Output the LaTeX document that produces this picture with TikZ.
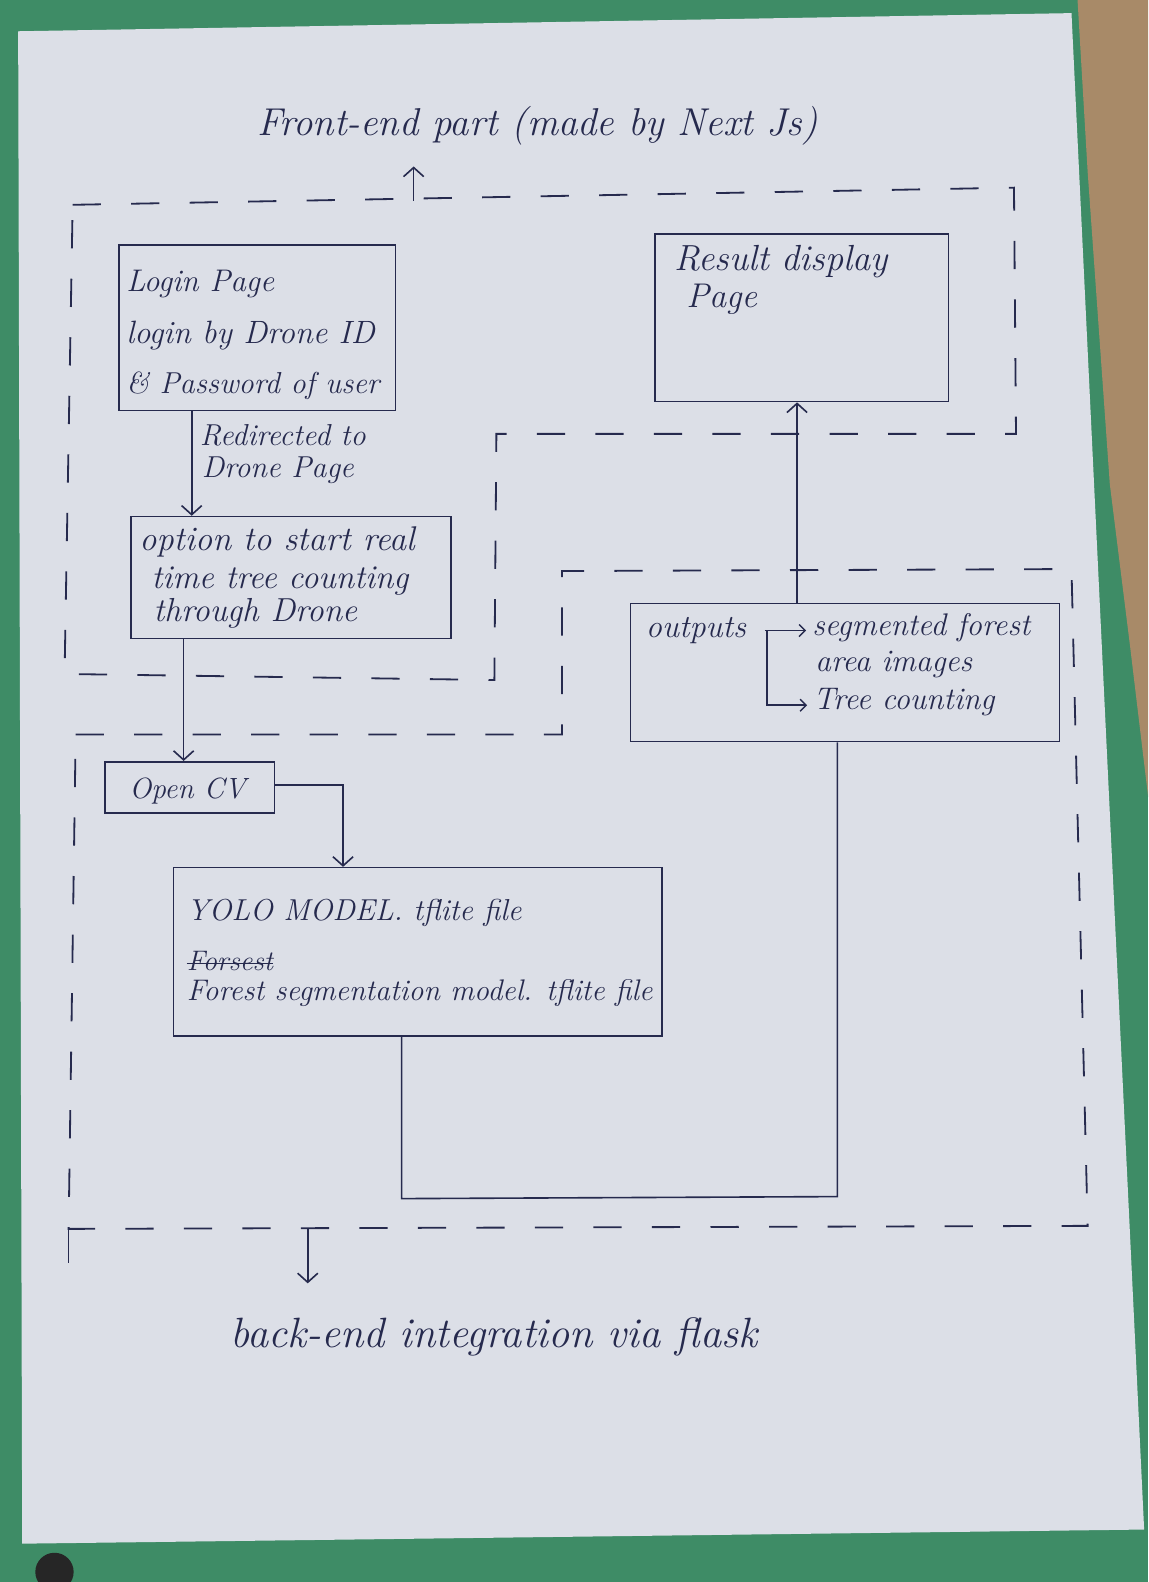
\documentclass[tikz,border=0pt]{standalone}
\usepackage{fontspec}
\usetikzlibrary{arrows.meta}
\definecolor{ink}{RGB}{38,42,78}
\definecolor{bggreen}{RGB}{62,140,102}
\definecolor{paper}{RGB}{220,223,231}
\definecolor{wood}{RGB}{168,138,104}
\tikzset{
  pen/.style={draw=ink, line width=1.6pt},
  boxn/.style={pen, rectangle, inner sep=0pt},
  dashline/.style={draw=ink, line width=1.8pt, dash pattern=on 28pt off 30pt},
  hand/.style={text=ink, inner sep=0pt, anchor=base west, font=\itshape\fontsize{#1}{#1}\selectfont},
  hand/.default=30,
  arr/.style={pen, -{Straight Barb[length=9pt,width=20pt,line width=1.6pt]}},
  smallarr/.style={pen, -{Straight Barb[length=6pt,width=12pt,line width=1.4pt]}, shorten >=6pt},
}
\begin{document}
\begin{tikzpicture}[x=1pt,y=-1pt]
\useasboundingbox (0,0) rectangle (1138,1568);
% photo background
\fill[bggreen] (0,0) rectangle (1138,1568);
\fill[wood] (1068,0) -- (1138,0) -- (1138,790) -- (1120,640) -- (1100,480) -- (1078,170) -- cycle;
\fill[paper] (18,31) -- (1062,13) -- (1134,1516) -- (22,1530) -- cycle;
\fill[black!85] (54,1558) circle (19);

% dashed regions
\draw[dashline] (72,203) -- (1005,186) -- (1007,430) -- (492,430) -- (490,674) -- (64,668) -- cycle;
\draw[dashline] (75,728) -- (557,728) -- (557,566) -- (1062,564) -- (1078,1215) -- (68,1218) -- cycle;
\draw[pen] (68,1218) -- (68,1252);

% title
\node[hand=38.5] (title) at (255,134) {Front-end part (made by Next Js)};
\coordinate (ta) at (410,199);
\draw[arr] (ta) -- (ta |- 0,165);

% boxes
\node[boxn, minimum width=274pt, minimum height=164pt] (login) at (255,325) {};
\node[boxn, minimum width=317pt, minimum height=121pt] (option) at (288.5,572.5) {};
\node[boxn, minimum width=168pt, minimum height=51pt] (opencv) at (188,780.5) {};
\node[boxn, minimum width=484pt, minimum height=167pt] (yolo) at (414,943.5) {};
\node[boxn, minimum width=291pt, minimum height=166pt] (result) at (794.5,315) {};
\node[boxn, minimum width=425pt, minimum height=137pt] (outputs) at (837.5,666.5) {};

% texts
\node[hand=31] (l1) at (125,289) {Login Page};
\node[hand=32] (l2) at (125,340) {login by Drone ID};
\node[hand=30] (l3) at (125,390) {\& Password of user};
\node[hand=30] (r1) at (198,442) {Redirected to};
\node[hand=30] (r2) at (200,473) {Drone Page};
\node[hand=34] (o1) at (138,546) {option to start real};
\node[hand=33] (o2) at (150,583) {time tree counting};
\node[hand=33] (o3) at (152,616) {through Drone};
\node[hand=29] (cv) at (128,791) {Open CV};
\node[hand=30] (y1) at (185,912) {YOLO MODEL. tflite file};
\node[hand=28] (y2) at (185,962) {Forsest};
\draw[pen] ([yshift=7pt]y2.base west) -- ([yshift=7pt]y2.base east);
\node[hand=29.5] (y3) at (185,992) {Forest segmentation model. tflite file};
\node[hand=36] (rs1) at (668,268) {Result display};
\node[hand=34] (rs2) at (680,305) {Page};
\node[hand=32] (op) at (640,632) {outputs};
\node[hand=31] (s1) at (805,630) {segmented forest};
\node[hand=31] (s2) at (808,666) {area images};
\node[hand=31] (s3) at (806,703) {Tree counting};
\node[hand=42] (backend) at (228,1336) {back-end integration via flask};

% connectors
\coordinate (lx) at (190,0);
\draw[arr] (login.south -| lx) -- (option.north -| lx);
\coordinate (ox) at (182,0);
\draw[arr] (option.south -| ox) -- (opencv.north -| ox);
\coordinate (cvb) at (340,778);
\draw[arr] (opencv.east |- cvb) -- (cvb) -- (yolo.north -| cvb);
\coordinate (yb1) at (398,1188);
\coordinate (yb2) at (830,1186);
\draw[pen] (yolo.south -| yb1) -- (yb1) -- (yb2) -- (outputs.south -| yb2);
\coordinate (ux) at (790,0);
\draw[arr] (outputs.north -| ux) -- (result.south -| ux);
% outputs bracket
\coordinate (bk1) at (758,625);
\coordinate (bk2) at (760,699);
\draw[smallarr] (bk1) -- (s1.west |- bk1);
\draw[smallarr] (bk1 -| bk2) -- (bk2) -- (s3.west |- bk2);
% bottom arrow
\coordinate (ba) at (305,1218);
\draw[arr] (ba) -- (ba |- 0,1272);
\end{tikzpicture}
\end{document}
